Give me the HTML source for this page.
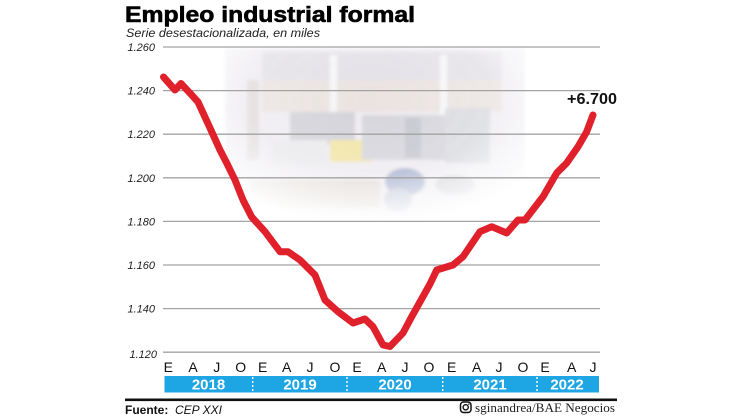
<!DOCTYPE html>
<html><head><meta charset="utf-8"><style>
html,body{margin:0;padding:0;background:#fff;}
svg{display:block;}
</style></head><body>
<svg width="745" height="420" viewBox="0 0 745 420" xmlns="http://www.w3.org/2000/svg">
<defs>
  <filter id="bl" x="-20%" y="-20%" width="140%" height="140%"><feGaussianBlur stdDeviation="1.6"/></filter>
  <radialGradient id="fade" cx="0.5" cy="0.35" r="0.62">
    <stop offset="0" stop-color="#fff" stop-opacity="1"/>
    <stop offset="0.6" stop-color="#fff" stop-opacity="0.8"/>
    <stop offset="1" stop-color="#fff" stop-opacity="0"/>
  </radialGradient>
  <mask id="m"><rect x="205" y="30" width="330" height="200" fill="url(#fade)"/></mask>
</defs>
<rect width="745" height="420" fill="#fff"/>

<!-- faded photo -->
<g mask="url(#m)" filter="url(#bl)" opacity="0.85">
  <rect x="225" y="48" width="300" height="170" fill="#ebe8ee"/>
  <rect x="262" y="52" width="240" height="28" fill="#dedbe2"/>
  <rect x="262" y="80" width="240" height="32" fill="#e6dedb"/>
  <rect x="330" y="55" width="7" height="75" fill="#f4f4f6"/>
  <rect x="440" y="55" width="7" height="75" fill="#f4f4f6"/>
  <rect x="290" y="112" width="65" height="32" fill="#cacad2"/>
  <rect x="272" y="140" width="55" height="25" fill="#e6e6ea"/>
  <rect x="330" y="140" width="42" height="22" fill="#efe096"/>
  <rect x="362" y="115" width="86" height="45" fill="#cdcdd5"/>
  <rect x="445" y="108" width="45" height="55" fill="#d3d4da"/>
  <rect x="405" y="118" width="16" height="40" fill="#bcbcc6"/>
  <ellipse cx="405" cy="182" rx="20" ry="14" fill="#9ea9ca"/>
  <ellipse cx="398" cy="200" rx="14" ry="12" fill="#bbc0d4"/>
  <ellipse cx="455" cy="185" rx="20" ry="10" fill="#cbcbd3"/>
  <rect x="250" y="180" width="130" height="28" fill="#ddd6d0"/>
  <ellipse cx="253" cy="118" rx="7" ry="7" fill="#eee8c0"/>
  <rect x="247" y="80" width="12" height="80" fill="#dcd6d6"/>
</g>

<!-- gridlines -->
<g stroke="#a3a3a3" stroke-width="1.3">
  <line x1="163" y1="47" x2="600" y2="47"/>
  <line x1="163" y1="90.6" x2="600" y2="90.6"/>
  <line x1="163" y1="134.2" x2="600" y2="134.2"/>
  <line x1="163" y1="177.8" x2="600" y2="177.8"/>
  <line x1="163" y1="221.4" x2="600" y2="221.4"/>
  <line x1="163" y1="265" x2="600" y2="265"/>
  <line x1="163" y1="308.6" x2="600" y2="308.6"/>
  <line x1="163" y1="352.2" x2="600" y2="352.2"/>
</g>

<!-- y labels -->
<g font-family="Liberation Sans, sans-serif" font-style="italic" font-size="11" fill="#222" text-anchor="end">
  <text x="155" y="51">1.260</text>
  <text x="155" y="94.6">1.240</text>
  <text x="155" y="138.2">1.220</text>
  <text x="155" y="181.8">1.200</text>
  <text x="155" y="225.4">1.180</text>
  <text x="155" y="269">1.160</text>
  <text x="155" y="312.6">1.140</text>
  <text x="157" y="358">1.120</text>
</g>

<!-- red line -->
<polyline fill="none" stroke="#e0202a" stroke-width="7" stroke-linejoin="round" stroke-linecap="round"
 points="163.5,77 175,90 181,83.5 191.7,95 198,102 210,128 220,150 226.7,163 235,180 243,200 251.7,217 265,231.7 280,251.7 288,251.7 300,260 315,275 325,300 338,311.7 353,323 365,319 373,326.7 383,345 390,346.5 403,333 411.7,316.7 430,284 436.7,270 453,265 463,256.7 480,231.7 491.7,226.7 506.7,233 518,220 525,220 543,196.7 556.7,173 566.7,163 578,146.7 586.7,131.7 593,115"/>

<text x="567" y="104" font-family="Liberation Sans, sans-serif" font-weight="bold" font-size="16" fill="#111" textLength="50" lengthAdjust="spacingAndGlyphs">+6.700</text>

<!-- month labels -->
<g font-family="Liberation Sans, sans-serif" font-size="14" fill="#111" text-anchor="middle">
  <text x="168.3" y="372">E</text><text x="193" y="372">A</text><text x="216.7" y="372">J</text><text x="240.7" y="372">O</text>
  <text x="262.7" y="372">E</text><text x="286.7" y="372">A</text><text x="310" y="372">J</text><text x="335" y="372">O</text>
  <text x="357" y="372">E</text><text x="381.7" y="372">A</text><text x="405" y="372">J</text><text x="429" y="372">O</text>
  <text x="451.7" y="372">E</text><text x="476.7" y="372">A</text><text x="499" y="372">J</text><text x="523" y="372">O</text>
  <text x="545" y="372">E</text><text x="571.7" y="372">A</text><text x="593" y="372">J</text>
</g>

<!-- year bar -->
<rect x="164.5" y="376" width="434.5" height="16.5" fill="#1ea5e4"/>
<g stroke="#fff" stroke-width="1.4" stroke-dasharray="2,2">
  <line x1="252.7" y1="377" x2="252.7" y2="392"/>
  <line x1="347" y1="377" x2="347" y2="392"/>
  <line x1="442.7" y1="377" x2="442.7" y2="392"/>
  <line x1="537" y1="377" x2="537" y2="392"/>
</g>
<g font-family="Liberation Sans, sans-serif" font-weight="bold" font-size="15" fill="#fff" text-anchor="middle">
  <text x="208.5" y="389.5">2018</text>
  <text x="300" y="389.5">2019</text>
  <text x="395" y="389.5">2020</text>
  <text x="490" y="389.5">2021</text>
  <text x="567" y="389.5">2022</text>
</g>

<!-- footer -->
<rect x="125" y="398.5" width="492" height="2.6" fill="#111"/>
<text x="125" y="414" font-family="Liberation Sans, sans-serif" font-weight="bold" font-size="12" fill="#111">Fuente:</text>
<text x="175" y="414" font-family="Liberation Sans, sans-serif" font-style="italic" font-size="12" fill="#111">CEP XXI</text>
<rect x="460.5" y="402" width="10.5" height="10.5" rx="3" fill="none" stroke="#111" stroke-width="1.5"/>
<circle cx="465.7" cy="407.3" r="2.6" fill="none" stroke="#111" stroke-width="1.4"/>
<circle cx="468.8" cy="404.2" r="0.7" fill="#111"/>
<text x="475" y="412" font-family="Liberation Serif, serif" font-size="13" fill="#222" textLength="140" lengthAdjust="spacingAndGlyphs">sginandrea/BAE Negocios</text>

<!-- title -->
<text x="125" y="22" font-family="Liberation Sans, sans-serif" font-weight="bold" font-size="22" fill="#000" stroke="#000" stroke-width="0.6" textLength="290" lengthAdjust="spacingAndGlyphs">Empleo industrial formal</text>
<text x="126" y="37" font-family="Liberation Sans, sans-serif" font-style="italic" font-size="12" fill="#222" textLength="194" lengthAdjust="spacingAndGlyphs">Serie desestacionalizada, en miles</text>
</svg>
</body></html>
